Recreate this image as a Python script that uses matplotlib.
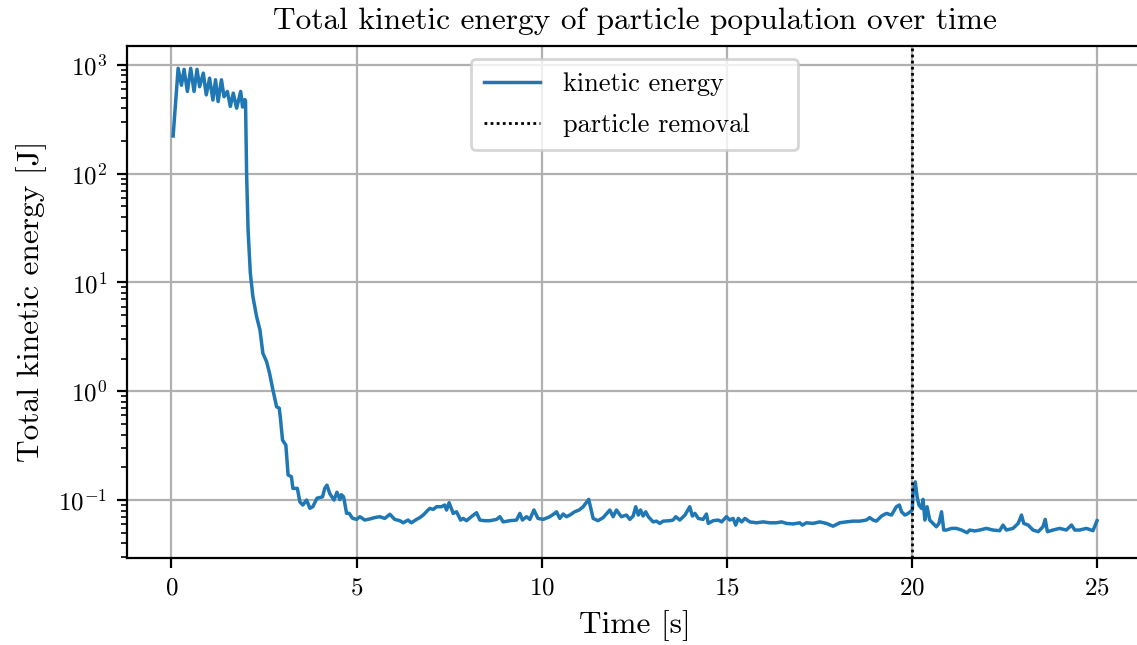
import matplotlib
matplotlib.use("Agg")
import matplotlib.pyplot as plt
import numpy as np

plt.rcParams["font.family"] = "serif"
plt.rcParams["font.serif"] = ["cmr10"]
plt.rcParams["mathtext.fontset"] = "cm"
plt.rcParams["axes.formatter.use_mathtext"] = True

# kinetic energy samples: time [s] and total energy [J]
t_start = [0.045, 0.18, 0.27, 0.34, 0.43, 0.52, 0.61, 0.69, 0.76, 0.86, 0.94, 1.03, 1.12,
           1.19, 1.26, 1.35, 1.42, 1.51, 1.59, 1.67, 1.76, 1.87, 1.92, 1.98, 2.00]
e_start = [222, 930, 650, 910, 570, 930, 570, 910, 630, 840, 530, 755, 475,
           730, 460, 730, 510, 570, 415, 550, 400, 570, 410, 480, 470]

t_decay = [2.03, 2.07, 2.13, 2.20, 2.30, 2.39, 2.47, 2.57, 2.65, 2.74, 2.84, 2.91, 2.94,
           3.00, 3.09, 3.15, 3.24, 3.28, 3.40, 3.47, 3.55, 3.65, 3.74, 3.82, 3.93, 4.08,
           4.14, 4.20, 4.28, 4.39, 4.47, 4.55, 4.59, 4.65, 4.73, 4.80, 4.89]
e_decay = [100, 30, 12.2, 7.4, 4.85, 3.66, 2.23, 1.87, 1.46, 1.03, 0.72, 0.70, 0.58,
           0.356, 0.32, 0.170, 0.164, 0.128, 0.128, 0.096, 0.090, 0.100, 0.084, 0.087, 0.104, 0.107,
           0.128, 0.137, 0.114, 0.100, 0.118, 0.101, 0.112, 0.107, 0.0755, 0.0755, 0.068]

t_settled = [5.00, 5.09, 5.22, 5.36, 5.49, 5.63, 5.76, 5.90, 6.03, 6.17, 6.26, 6.39, 6.48,
             6.62, 6.71, 6.80, 6.93, 6.98, 7.07, 7.16, 7.29, 7.38, 7.43, 7.50, 7.61, 7.70,
             7.81, 7.88, 7.97, 8.10, 8.24, 8.33, 8.46, 8.60, 8.78, 8.87, 8.96, 9.14, 9.32,
             9.41, 9.48, 9.59, 9.68, 9.79, 9.90, 10.04, 10.22, 10.35, 10.40, 10.49, 10.58,
             10.67, 10.76, 10.89, 11.01, 11.12, 11.27, 11.39, 11.52, 11.66, 11.84, 11.93,
             12.02, 12.15, 12.29, 12.38, 12.47, 12.54, 12.61, 12.67, 12.74, 12.81, 12.88,
             13.01, 13.10, 13.19, 13.28, 13.46, 13.55, 13.62, 13.73, 13.87, 14.00, 14.07,
             14.14, 14.23, 14.36, 14.45, 14.50, 14.63, 14.77, 14.86, 14.99, 15.08, 15.17,
             15.24, 15.31, 15.40, 15.49, 15.62, 15.80, 15.98, 16.16, 16.34, 16.48, 16.61,
             16.79, 16.97, 17.04, 17.15, 17.33, 17.51, 17.69, 17.87, 18.05, 18.23, 18.41,
             18.59, 18.77, 18.86, 18.95, 19.04, 19.18, 19.31, 19.45, 19.58, 19.66, 19.72,
             19.81, 19.90, 20.01]
e_settled = [0.0664, 0.0703, 0.0655, 0.0670, 0.0690, 0.0703, 0.0678, 0.0740, 0.0664, 0.0646,
             0.0618, 0.0655, 0.0618, 0.0664, 0.0690, 0.0728, 0.0810, 0.0838, 0.0820, 0.0868,
             0.0868, 0.0900, 0.0810, 0.0945, 0.0754, 0.0780, 0.0655, 0.0678, 0.0646, 0.0703,
             0.0765, 0.0655, 0.0646, 0.0646, 0.0664, 0.0703, 0.0630, 0.0646, 0.0655, 0.0754,
             0.0655, 0.0703, 0.0664, 0.0810, 0.0678, 0.0664, 0.0703, 0.0754, 0.0780, 0.0678,
             0.0744, 0.0703, 0.0728, 0.0780, 0.0810, 0.0868, 0.1015, 0.0678, 0.0646, 0.0690,
             0.0810, 0.0703, 0.0810, 0.0703, 0.0728, 0.0664, 0.0713, 0.0868, 0.0728, 0.0810,
             0.0713, 0.0780, 0.0703, 0.0630, 0.0640, 0.0610, 0.0640, 0.0646, 0.0655, 0.0703,
             0.0655, 0.0728, 0.0868, 0.0713, 0.0754, 0.0678, 0.0664, 0.0744, 0.0610, 0.0646,
             0.0655, 0.0630, 0.0703, 0.0655, 0.0678, 0.0589, 0.0678, 0.0630, 0.0678, 0.0630,
             0.0618, 0.0630, 0.0618, 0.0618, 0.0630, 0.0610, 0.0603, 0.0618, 0.0589, 0.0618,
             0.0610, 0.0630, 0.0610, 0.0575, 0.0618, 0.0630, 0.0640, 0.0640, 0.0655, 0.0690,
             0.0655, 0.0640, 0.0713, 0.0754, 0.0728, 0.0868, 0.0900, 0.0780, 0.0728, 0.0754,
             0.0810]

t_after = [20.03, 20.09, 20.14, 20.19, 20.26, 20.30, 20.35, 20.41, 20.48, 20.57, 20.66, 20.73,
           20.80, 20.86, 20.93, 21.07, 21.20, 21.34, 21.49, 21.56, 21.70, 21.83, 22.01, 22.19,
           22.37, 22.46, 22.55, 22.73, 22.87, 22.96, 23.02, 23.14, 23.27, 23.41, 23.54, 23.60,
           23.66, 23.81, 23.99, 24.17, 24.31, 24.40, 24.53, 24.71, 24.89, 25.00]
e_after = [0.115, 0.147, 0.107, 0.090, 0.0838, 0.1015, 0.0655, 0.0868, 0.0655, 0.0610, 0.0568,
           0.0610, 0.0780, 0.0530, 0.0530, 0.0549, 0.0549, 0.0530, 0.0501, 0.0530, 0.0520,
           0.0530, 0.0549, 0.0530, 0.0523, 0.0589, 0.0530, 0.0549, 0.0610, 0.0728, 0.0610,
           0.0589, 0.0530, 0.0512, 0.0568, 0.0664, 0.0512, 0.0530, 0.0549, 0.0530, 0.0589,
           0.0530, 0.0530, 0.0549, 0.0523, 0.0646]

removal_time = 20.0

time = np.array(t_start + t_decay + t_settled + t_after)
energy = np.array(e_start + e_decay + e_settled + e_after)

fig = plt.figure(figsize=(5.685, 3.225), dpi=200)
ax = fig.add_axes([0.1114, 0.1353, 0.8935, 0.7938])

ax.plot(time, energy, lw=1.25, label="kinetic energy")
ax.axvline(removal_time, color="k", lw=1.0, linestyle=(0, (1, 1.2)), label="particle removal")

ax.set_yscale("log")
ax.set_xlim(-1.21, 26.23)
ax.set_ylim(0.0295, 1500)
ax.grid(True)

ax.tick_params(labelsize=9)
ax.set_xlabel("Time [s]", fontsize=11.3)
ax.set_ylabel("Total kinetic energy [J]", fontsize=11.3)
ax.set_title("Total kinetic energy of particle population over time", fontsize=11.3)

# wider frame around the legend entries
leg = ax.legend(loc="upper center", fontsize=9.5, labelspacing=0.65, handlelength=2.1,
                handletextpad=0.9, borderpad=0.5)
for txt in leg.get_texts():
    txt.set_text(txt.get_text() + "    ")

fig.savefig("out.png", dpi=200)
